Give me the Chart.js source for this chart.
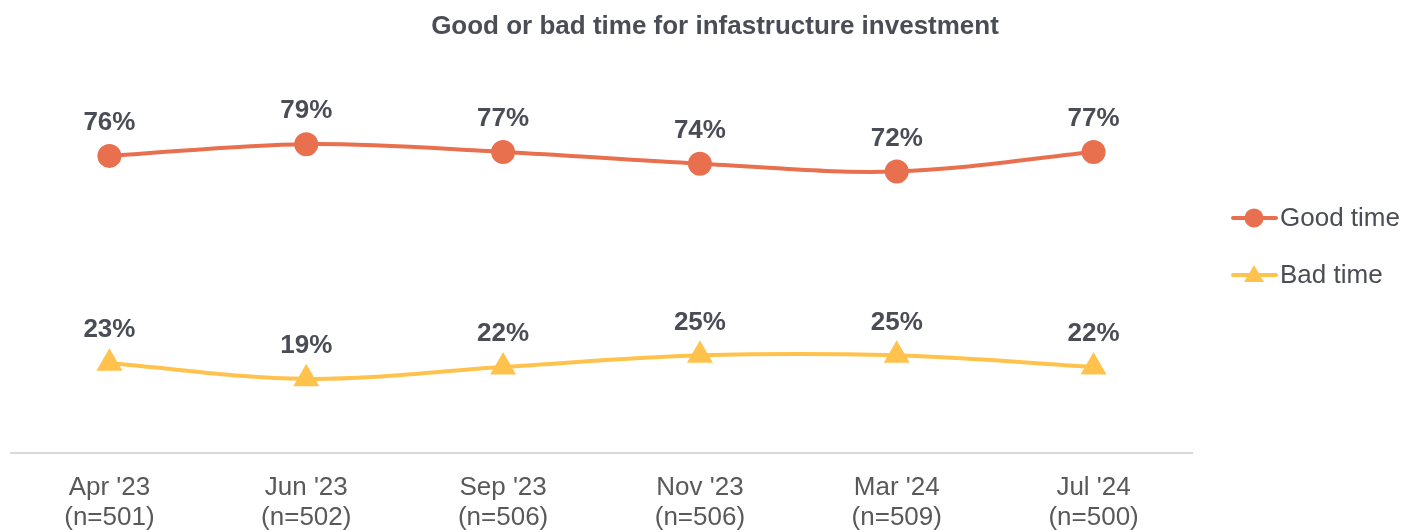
<!DOCTYPE html>
<html>
<head>
<meta charset="utf-8">
<script src="https://cdn.jsdelivr.net/npm/chart.js@4"></script>
<style>
html,body{margin:0;padding:0;background:#fff;}
#wrap{position:relative;width:1405px;height:530px;}
</style>
</head>
<body>
<div id="wrap"><canvas id="c" width="1405" height="530"></canvas></div>
<script>
const chartTitle = "Good or bad time for infastructure investment";
const categories = [["Apr '23","(n=501)"],["Jun '23","(n=502)"],["Sep '23","(n=506)"],["Nov '23","(n=506)"],["Mar '24","(n=509)"],["Jul '24","(n=500)"]];
const seriesNames = ["Good time","Bad time"];
const goodTime = [76, 79, 77, 74, 72, 77];
const badTime = [23, 19, 22, 25, 25, 22];
const goodLabels = ["76%","79%","77%","74%","72%","77%"];
const badLabels = ["23%","19%","22%","25%","25%","22%"];

const ORANGE = '#E8704E';
const YELLOW = '#FFC34D';
const LABEL = '#4A4D55';
const FONT = "'Liberation Sans', Arial, sans-serif";

const overlay = {
  id: 'overlay',
  afterDatasetsDraw(chart) {
    const ctx = chart.ctx;
    ctx.save();
    const labelSets = [goodLabels, badLabels];
    ctx.font = 'bold 26px ' + FONT;
    ctx.fillStyle = LABEL;
    ctx.textAlign = 'center';
    ctx.textBaseline = 'middle';
    chart.data.datasets.forEach((ds, i) => {
      const meta = chart.getDatasetMeta(i);
      meta.data.forEach((pt, j) => {
        ctx.fillText(labelSets[i][j], pt.x, pt.y - 33);
      });
    });
    ctx.font = 'bold 26px ' + FONT;
    ctx.fillText(chartTitle, 715, 27);
    const items = [
      {name: seriesNames[0], color: ORANGE, style: 'circle', y: 218},
      {name: seriesNames[1], color: YELLOW, style: 'triangle', y: 275}
    ];
    items.forEach(it => {
      ctx.strokeStyle = it.color;
      ctx.lineWidth = 4;
      ctx.lineCap = 'round';
      ctx.beginPath();
      ctx.moveTo(1233, it.y);
      ctx.lineTo(1276, it.y);
      ctx.stroke();
      ctx.fillStyle = it.color;
      ctx.beginPath();
      if (it.style === 'circle') {
        ctx.arc(1254, it.y, 9.5, 0, Math.PI * 2);
      } else {
        ctx.moveTo(1254, it.y - 10);
        ctx.lineTo(1264, it.y + 7);
        ctx.lineTo(1244, it.y + 7);
        ctx.closePath();
      }
      ctx.fill();
      ctx.fillStyle = LABEL;
      ctx.font = '26px ' + FONT;
      ctx.textAlign = 'left';
      ctx.fillText(it.name, 1280, it.y + 1);
    });
    ctx.restore();
  }
};

new Chart(document.getElementById('c'), {
  type: 'line',
  data: {
    labels: categories,
    datasets: [
      {label: seriesNames[0], data: goodTime, borderColor: ORANGE, backgroundColor: ORANGE,
       borderWidth: 4, pointStyle: 'circle', pointRadius: 10, pointHoverRadius: 10, tension: 0.35},
      {label: seriesNames[1], data: badTime, borderColor: YELLOW, backgroundColor: YELLOW,
       borderWidth: 4, pointStyle: 'triangle', pointRadius: 11, pointHoverRadius: 11, tension: 0.35}
    ]
  },
  options: {
    responsive: false,
    animation: false,
    events: [],
    layout: {autoPadding: false, padding: {left: 11, right: 213, top: 62, bottom: -22}},
    plugins: {legend: {display: false}, title: {display: false}, tooltip: {enabled: false}},
    scales: {
      x: {
        offset: true,
        grid: {display: false, drawTicks: false},
        border: {display: true, color: '#D9D9D9', width: 2},
        ticks: {color: '#595959', font: {family: FONT, size: 26, lineHeight: 1.17}, padding: 19, maxRotation: 0}
      },
      y: {
        display: false,
        min: 0, max: 100
      }
    }
  },
  plugins: [overlay]
});
</script>
</body>
</html>
